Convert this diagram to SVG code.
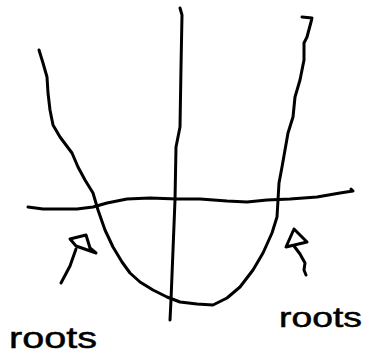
<svg xmlns="http://www.w3.org/2000/svg" width="367" height="358" viewBox="0 0 367 358">
<style>
.ink{fill:none;stroke:#000;stroke-width:3;stroke-linecap:round;stroke-linejoin:round}
.lbl{font-family:"Liberation Sans",Arial,sans-serif;fill:#000;stroke:#000;stroke-width:0.5}
</style>
<rect width="367" height="358" fill="#fff"/>
<g id="parabola">
<polyline class="ink" points="39,50 43,63 47,77 48,93 50,110 53,125 60,137 72,153 78,167 85,180 93,193 98,210 105,230 113,247 122,262 130,273 140,282 153,290 167,297 180,302 197,304 213,305 227,298 240,287 253,270 263,253 272,233 277,217 278,200 279,183 282,167 285,150 288,133 293,117 295,97 300,80 304,60 304,43 307,37 311,22 312,18 302,17"/>
</g>
<g id="x-axis">
<polyline class="ink" points="28,207 43,209 77,209 93,207 107,203 127,199 150,198 177,199 200,199 227,201 247,202 267,200 290,199 317,197 340,193 353,191 351,189"/>
</g>
<g id="y-axis">
<polyline class="ink" points="180,8 182,15 181,67 180,127 176,147 175,200 173,250 171,300 170,320"/>
</g>
<g id="connectors">
<g id="arrow-left">
<polyline class="ink" points="61,283 70,266 76,249"/>
<polyline class="ink" points="70,239 86,235 90,248 96,253 76,246 70,239"/>
</g>
<g id="arrow-right">
<polyline class="ink" points="306,275 304,270 305,263 300,254 294,246"/>
<polyline class="ink" points="294,229 286,247 307,242 294,229"/>
</g>
</g>
<g id="label-left">
<text class="lbl" x="9" y="348" font-size="30" textLength="88" lengthAdjust="spacingAndGlyphs">roots</text>
</g>
<g id="label-right">
<text class="lbl" x="279" y="327" font-size="28" textLength="83" lengthAdjust="spacingAndGlyphs">roots</text>
</g>
</svg>
